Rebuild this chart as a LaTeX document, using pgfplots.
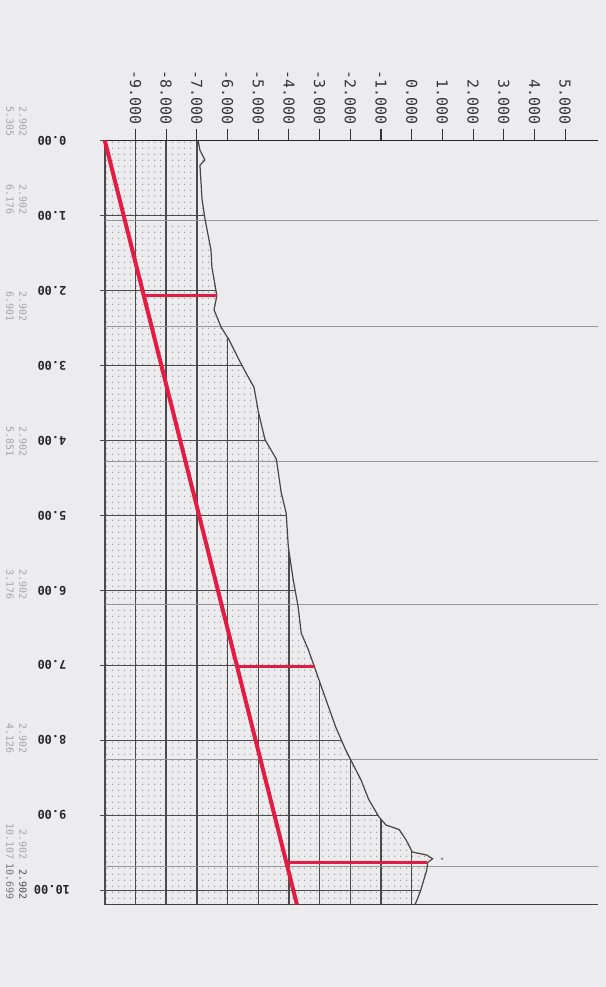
\documentclass[border=0pt]{standalone}
\usepackage{pgfplots}
\pgfplotsset{compat=1.18}
\usepackage{pgfplotstable}
\usepackage{fontspec}
\setmainfont{Liberation Sans}
\newfontfamily\monof{DejaVu Sans Mono}
\usetikzlibrary{patterns}
\pgfdeclarepatternformonly{mydots}{\pgfpointorigin}{\pgfqpoint{6.14bp}{5.77bp}}{\pgfqpoint{6.14bp}{5.77bp}}{\pgfpathcircle{\pgfqpoint{3.07bp}{2.88bp}}{0.6bp}\pgfusepath{fill}}
\definecolor{bg}{RGB}{236,236,238}
\definecolor{gridc}{RGB}{75,75,75}
\definecolor{redl}{RGB}{226,28,66}
\definecolor{lgray}{RGB}{150,150,150}
\definecolor{curvec}{RGB}{70,70,70}
\definecolor{faint}{RGB}{165,165,168}

\pgfplotstableread{
x y
-6.96 0.00
-6.90 0.13
-6.74 0.26
-6.90 0.33
-6.83 0.79
-6.73 1.06
-6.54 1.46
-6.51 1.69
-6.35 2.07
-6.44 2.26
-6.21 2.49
-5.95 2.66
-5.62 2.93
-5.40 3.10
-5.14 3.29
-4.99 3.63
-4.78 3.99
-4.41 4.25
-4.25 4.70
-4.09 4.97
-4.02 5.42
-3.86 5.86
-3.70 6.22
-3.60 6.57
-3.37 6.79
-3.17 7.02
-2.87 7.37
-2.48 7.82
-2.15 8.13
-1.65 8.53
-1.40 8.79
-1.07 9.02
-0.84 9.13
-0.41 9.19
-0.18 9.33
0.02 9.49
0.49 9.53
0.68 9.58
0.52 9.63
0.49 9.73
0.27 10.03
0.11 10.19
}\curve

\begin{document}
\begin{tikzpicture}
\useasboundingbox (0,0) rectangle (606bp,987bp);
\fill[bg] (0,0) rectangle (606bp,987bp);
% faint side labels
\foreach \py/\a/\b in {137/2.902/5.305, 215/2.902/6.176, 322/2.902/6.901, 457/2.902/5.851, 600/2.902/3.176, 754/2.902/4.126, 860/2.902/10.107}{
  \node[font=\monof\fontsize{10}{10}\selectfont, text=faint, rotate=-90, anchor=east, inner sep=0pt] at (23bp,{(987-\py)*1bp}) {\a};
  \node[font=\monof\fontsize{10}{10}\selectfont, text=faint, rotate=-90, anchor=east, inner sep=0pt] at (10bp,{(987-\py)*1bp}) {\b};
}
\node[font=\monof\fontsize{10}{10}\selectfont, text=black!70, rotate=-90, anchor=east, inner sep=0pt] at (23bp,{(987-900)*1bp}) {2.902};
\node[font=\monof\fontsize{10}{10}\selectfont, text=black!55, rotate=-90, anchor=east, inner sep=0pt] at (10bp,{(987-900)*1bp}) {10.699};
\begin{axis}[
  at={(104.8bp,846.5bp)}, anchor=north west,
  scale only axis, width=493.2bp, height=764bp,
  xmin=-10, xmax=6.07, ymin=0, ymax=10.19, y dir=reverse,
  axis line style={draw=none},
  clip=false,
  xtick={-9,...,5},
  xticklabels={-9.000,-8.000,-7.000,-6.000,-5.000,-4.000,-3.000,-2.000,-1.000,0.000,1.000,2.000,3.000,4.000,5.000},
  xtick pos=right, xticklabel pos=right, tick align=outside, major tick length=12bp,
  xtick style={draw=black!80, line width=1.1bp},
  xticklabel style={font=\monof\fontsize{15}{15}\selectfont, text=black!80, rotate=-90, anchor=east, inner sep=0pt},
  xticklabel shift=4bp,
  ytick={0,...,10},
  yticklabels={0.00,1.00,2.00,3.00,4.00,5.00,6.00,7.00,8.00,9.00,10.00},
  ytick pos=left,
  ytick style={draw=none},
  yticklabel style={font=\monof\bfseries\fontsize{12}{12}\selectfont, text=black!85, rotate=180, anchor=center, inner sep=0pt},
  yticklabel shift=40.8bp,
]
\fill[pattern=mydots, pattern color=black!55] (axis cs:-10,0) rectangle (axis cs:6.07,10.19);
\pgfplotsinvokeforeach{-10,...,0}{\draw[gridc, line width=1.4bp] (axis cs:#1,0) -- (axis cs:#1,10.19);}
\pgfplotsinvokeforeach{0,...,10}{\draw[gridc, line width=1.4bp] (axis cs:-10.16,#1) -- (axis cs:3,#1);}
\addplot[draw=none, fill=bg] table[x=x, y=y] {\curve} -- (axis cs:6.07,10.19) -- (axis cs:6.07,0) -- cycle;
\pgfplotsinvokeforeach{1.07,2.48,4.28,6.19,8.25,9.68}{\draw[lgray, line width=1bp] (axis cs:-10,#1) -- (axis cs:6.07,#1);}
\addplot[curvec, line width=1.2bp] table[x=x, y=y] {\curve};
\draw[black!85, line width=1.8bp] (axis cs:-10,0) -- (axis cs:6.07,0);
\draw[black!75, line width=1.4bp] (axis cs:-10,10.19) -- (axis cs:6.07,10.19);
\addplot[redl, line width=4bp] coordinates {(-10,0) (-3.74,10.19)};
\addplot[redl, line width=3.3bp] coordinates {(-8.73,2.07) (-6.33,2.07)};
\addplot[redl, line width=3.3bp] coordinates {(-5.69,7.02) (-3.15,7.02)};
\addplot[redl, line width=3.3bp] coordinates {(-4.08,9.63) (0.50,9.63)};
\addplot[only marks, mark=*, mark size=0.9bp, black!50] coordinates {(0.99,9.58)};
\end{axis}
\end{tikzpicture}
\end{document}
